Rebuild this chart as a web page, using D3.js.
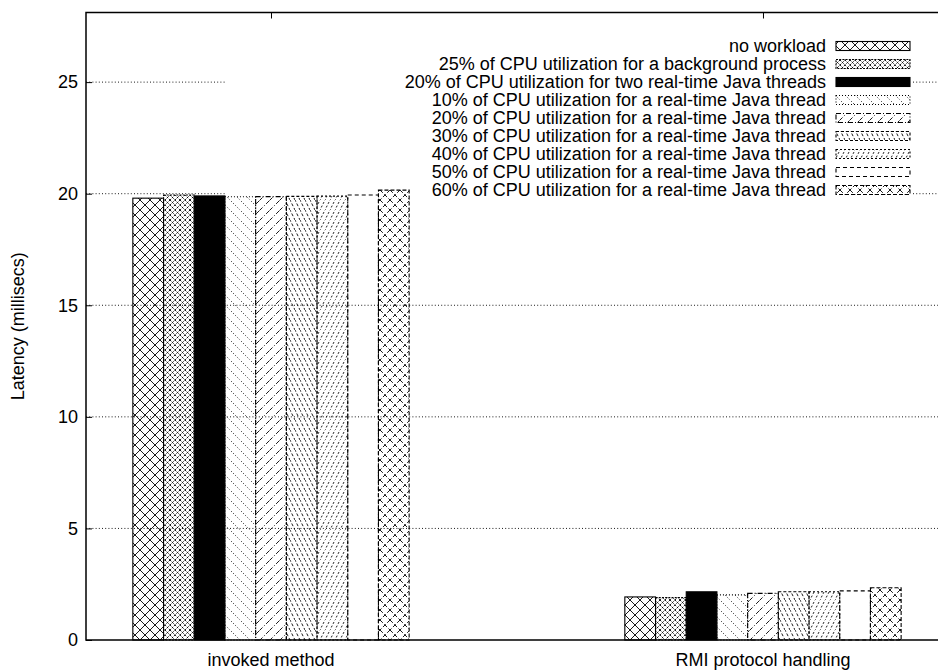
<!DOCTYPE html>
<html>
<head>
<meta charset="utf-8">
<script src="https://cdn.jsdelivr.net/npm/d3@7"></script>
<style>
  html, body { margin: 0; padding: 0; background: #fff; }
  svg text { font-family: "Liberation Sans", Arial, Helvetica, sans-serif; fill: #000; }
</style>
</head>
<body>
<svg id="chart" width="938" height="671"></svg>
<script>
// Latency per workload, two measured operations
const groups = ["invoked method", "RMI protocol handling"];
const seriesNames = [
  "no workload",
  "25% of CPU utilization for a background process",
  "20% of CPU utilization for two real-time Java threads",
  "10% of CPU utilization for a real-time Java thread",
  "20% of CPU utilization for a real-time Java thread",
  "30% of CPU utilization for a real-time Java thread",
  "40% of CPU utilization for a real-time Java thread",
  "50% of CPU utilization for a real-time Java thread",
  "60% of CPU utilization for a real-time Java thread"
];
const invokedMethod = [19.80, 19.94, 19.90, 19.86, 19.87, 19.88, 19.89, 19.94, 20.16];
const rmiHandling   = [1.93, 1.90, 2.16, 2.02, 2.09, 2.16, 2.16, 2.20, 2.34];
const yTicks = [0, 5, 10, 15, 20, 25];
const yLabel = "Latency (millisecs)";

// fill pattern + border dash for each series (gnuplot-like fill styles)
const seriesStyle = [
  { pat: "cross",  dash: null },
  { pat: "dense",  dash: "2,1.2" },
  { pat: "solid",  dash: null },
  { pat: "bslash", dash: "1,2" },
  { pat: "fslash", dash: "5,2,1,2" },
  { pat: "steepB", dash: "3,2" },
  { pat: "steepF", dash: "2,2" },
  { pat: "none",   dash: "4,3" },
  { pat: "cross",  dash: "4,2" }
];

const svg = d3.select("#chart");
const W = 938, H = 671;
const plot = { left: 86, right: 940, top: 12.5, bottom: 640 };

const y = d3.scaleLinear().domain([0, 28.12]).range([plot.bottom, plot.top]);
// group index on a continuous axis, centres of the two groups at 0 and 1
const x = d3.scaleLinear().domain([-0.376, 1.3598]).range([plot.left, plot.right]);
const inner = d3.scaleBand().domain(d3.range(seriesNames.length)).range([-0.2808, 0.2808]);

// ---- patterns ----
const defs = svg.append("defs");
const tiles = {
  cross:  { w: 10, h: 10, d: "M0,0L10,10M10,0L0,10" },
  dense:  { w: 10, h: 10, d: "M0,0L10,10M10,0L0,10M0,5L5,0M5,10L10,5M0,5L5,10M5,0L10,5" },
  bslash: { w: 10, h: 10, d: "M-1,-1L11,11M-1,9L1,11M9,-1L11,1" },
  fslash: { w: 10, h: 10, d: "M-1,11L11,-1M-1,1L1,-1M9,11L11,9" },
  steepB: { w: 5,  h: 10, d: "M-0.5,-1L5.5,11" },
  steepF: { w: 5,  h: 10, d: "M-0.5,11L5.5,-1" }
};
seriesStyle.forEach((s, i) => {
  const t = tiles[s.pat];
  if (!t) return;
  const p = defs.append("pattern")
    .attr("id", "pat" + i)
    .attr("patternUnits", "userSpaceOnUse")
    .attr("width", t.w).attr("height", t.h);
  p.append("path")
    .attr("d", t.d)
    .attr("fill", "none")
    .attr("stroke", "#000")
    .attr("stroke-width", 0.9)
    .attr("stroke-dasharray", s.dash);
});
function fillOf(i) {
  const s = seriesStyle[i];
  if (s.pat === "solid") return "#000";
  if (s.pat === "none") return "none";
  return "url(#pat" + i + ")";
}

// ---- key geometry (grid is kept out of the key area) ----
const key = { left: 225, right: 913, top: 12, bottom: 200, textRight: 826, sampleX: 836, sampleW: 74, rowY0: 46, rowH: 18 };

// ---- grid ----
const grid = svg.append("g");
yTicks.filter(t => t > 0).forEach(t => {
  const yy = y(t);
  const segs = (yy > key.top && yy < key.bottom)
    ? [[plot.left, key.left], [key.right, plot.right]]
    : [[plot.left, plot.right]];
  segs.forEach(([a, b]) => {
    grid.append("line")
      .attr("x1", a).attr("x2", b).attr("y1", yy).attr("y2", yy)
      .attr("stroke", "#000").attr("stroke-width", 0.9)
      .attr("stroke-dasharray", "1,2.2");
  });
});

// ---- axes ----
const yAxis = d3.axisLeft(y).tickValues(yTicks).tickSize(-6).tickPadding(10).tickFormat(d3.format("d"));
const gy = svg.append("g").attr("transform", `translate(${plot.left},0)`).call(yAxis);
gy.select(".domain").remove();
gy.selectAll(".tick line").attr("stroke", "#000").attr("stroke-width", 1);
gy.selectAll(".tick text").attr("font-size", 18).attr("x", -8);

const xTop = d3.axisTop(x).tickValues([0, 1]).tickSize(-6).tickFormat("");
const gxt = svg.append("g").attr("transform", `translate(0,${plot.top})`).call(xTop);
gxt.select(".domain").remove();
gxt.selectAll(".tick line").attr("stroke", "#000").attr("stroke-width", 1);

// ---- bars ----
const valuesByGroup = [invokedMethod, rmiHandling];
const bars = svg.append("g");
seriesNames.forEach((name, i) => {
  valuesByGroup.forEach((vals, g) => {
    const x0 = x(g + inner(i)), x1 = x(g + inner(i) + inner.bandwidth());
    const st = seriesStyle[i];
    bars.append("rect")
      .attr("x", x0).attr("y", y(vals[i]))
      .attr("width", x1 - x0).attr("height", y(0) - y(vals[i]))
      .attr("fill", st.pat === "none" ? "#fff" : fillOf(i))
      .attr("fill-opacity", st.pat === "none" ? 0 : 1)
      .attr("stroke", "#000").attr("stroke-width", 1.1)
      .attr("stroke-dasharray", st.dash);
  });
});

// ---- frame ----
svg.append("path")
  .attr("d", `M${plot.right},${plot.top}H${plot.left}V${plot.bottom}H${plot.right}`)
  .attr("fill", "none").attr("stroke", "#000").attr("stroke-width", 1.5);

// ---- category labels ----
groups.forEach((gname, g) => {
  svg.append("text")
    .attr("x", x(g)).attr("y", 666)
    .attr("text-anchor", "middle").attr("font-size", 18)
    .text(gname);
});

// ---- y label ----
svg.append("text")
  .attr("transform", `translate(24,${(plot.top + plot.bottom) / 2}) rotate(-90)`)
  .attr("text-anchor", "middle").attr("font-size", 18)
  .text(yLabel);

// ---- key ----
const keyG = svg.append("g");
seriesNames.forEach((name, i) => {
  const ry = key.rowY0 + i * key.rowH;
  keyG.append("text")
    .attr("x", key.textRight).attr("y", ry).attr("dy", "0.35em")
    .attr("text-anchor", "end").attr("font-size", 18)
    .text(name);
  const st = seriesStyle[i];
  keyG.append("rect")
    .attr("x", key.sampleX).attr("y", ry - 4.5)
    .attr("width", key.sampleW).attr("height", 9)
    .attr("fill", st.pat === "none" ? "none" : fillOf(i))
    .attr("stroke", "#000").attr("stroke-width", 1.1)
    .attr("stroke-dasharray", st.dash);
});
</script>
</body>
</html>
